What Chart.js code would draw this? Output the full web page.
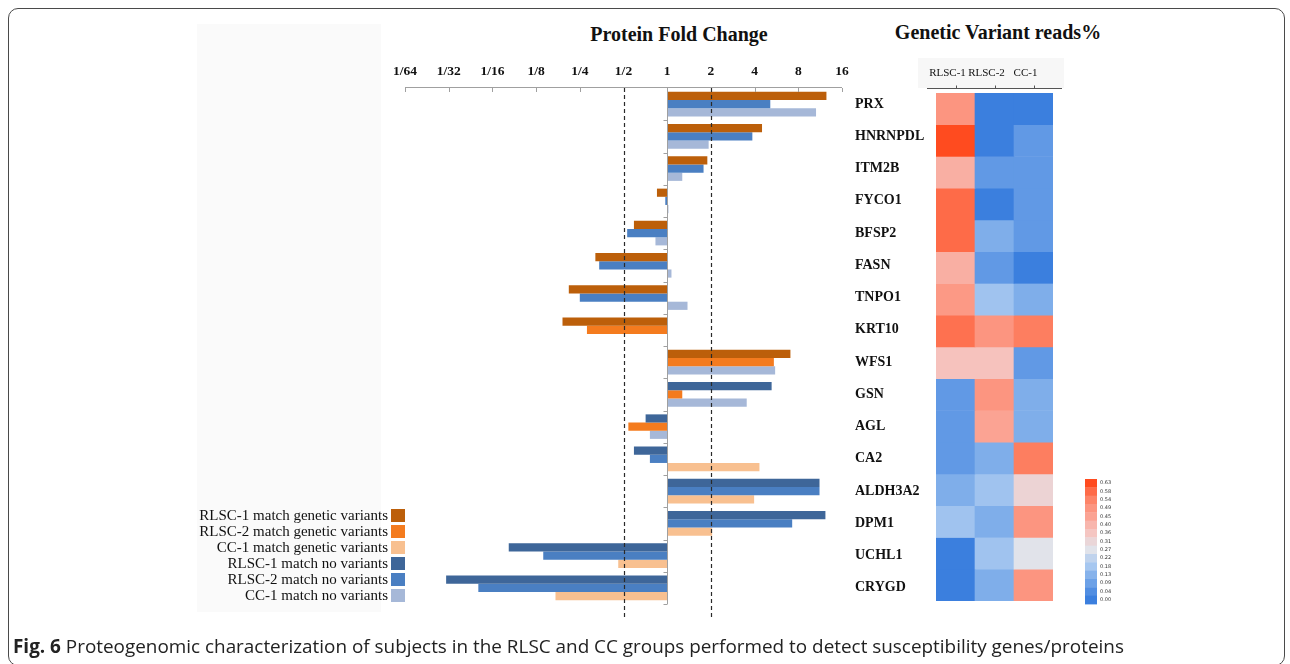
<!DOCTYPE html>
<html>
<head>
<meta charset="utf-8">
<script src="https://cdn.jsdelivr.net/npm/chart.js@4.4.0/dist/chart.umd.min.js"></script>
<style>
html, body { margin: 0; padding: 0; background: #fff; }
body { width: 1290px; height: 664px; position: relative; overflow: hidden; font-family: "Liberation Serif", serif; }
#frame { position: absolute; left: 8px; top: 8px; width: 1277px; height: 658px; border: 1.5px solid #4a4a4a; border-radius: 10px; box-sizing: border-box; }
#leftPanel { position: absolute; left: 197px; top: 24px; width: 184px; height: 588px; background: #fafafa; }
#hmHead { position: absolute; left: 918px; top: 58px; width: 146px; height: 30px; background: #f7f7f7; }
.title { position: absolute; font-weight: bold; font-size: 20px; color: #111; white-space: nowrap; transform: translateX(-50%); }
#barWrap { position: absolute; left: 380px; top: 40px; width: 560px; height: 600px; }
#hmWrap { position: absolute; left: 920px; top: 50px; width: 200px; height: 570px; }
#legend { position: absolute; right: 885px; top: 507px; }
.row { display: flex; align-items: center; justify-content: flex-end; height: 16px; font-size: 15px; color: #111; white-space: nowrap; }
.box { width: 14px; height: 13px; margin-left: 3px; }
#caption { position: absolute; left: 13px; top: 633px; font-family: "Open Sans", sans-serif; font-size: 18.9px; color: #222; white-space: nowrap; }
</style>
</head>
<body>
<div id="leftPanel"></div>
<div id="hmHead"></div>
<div class="title" style="left:679px; top:23px;">Protein Fold Change</div>
<div class="title" style="left:998px; top:21px;">Genetic Variant reads%</div>
<div id="barWrap"><canvas id="barChart"></canvas></div>
<div id="hmWrap"><canvas id="heatChart"></canvas></div>
<div id="legend"></div>
<div id="caption"><b>Fig. 6</b> Proteogenomic characterization of subjects in the RLSC and CC groups performed to detect susceptibility genes/proteins</div>
<div id="frame"></div>
<script>
// 基因列表
const genes = ['PRX', 'HNRNPDL', 'ITM2B', 'FYCO1', 'BFSP2', 'FASN', 'TNPO1', 'KRT10', 'WFS1', 'GSN', 'AGL', 'CA2', 'ALDH3A2', 'DPM1', 'UCHL1', 'CRYGD'];

// 横轴刻度
const foldTicks = ['1/64', '1/32', '1/16', '1/8', '1/4', '1/2', '1', '2', '4', '8', '16'];

// 蛋白倍数变化
const rlsc1Fold = [12.5, 4.5, 1.89, 0.85, 0.59, 0.32, 0.21, 0.19, 7.06, 5.24, 0.71, 0.59, 11.2, 12.3, 0.081, 0.030];
const rlsc2Fold = [5.13, 3.86, 1.78, 0.97, 0.53, 0.34, 0.25, 0.28, 5.43, 1.27, 0.54, 0.76, 11.2, 7.26, 0.14, 0.050];
const cc1Fold = [10.6, 1.93, 1.27, 1.02, 0.83, 1.07, 1.38, 1.01, 5.54, 3.53, 0.76, 4.32, 3.97, 2.04, 0.46, 0.17];

// 是否匹配遗传变异 (1 = 匹配)
const rlsc1Match = [1, 1, 1, 1, 1, 1, 1, 1, 1, 0, 0, 0, 0, 0, 0, 0];
const rlsc2Match = [0, 0, 0, 0, 0, 0, 0, 1, 1, 1, 1, 0, 0, 0, 0, 0];
const cc1Match = [0, 0, 0, 0, 0, 0, 0, 0, 0, 0, 0, 1, 1, 1, 1, 1];

// 变异读数百分比 (热图)
const readCols = ['RLSC-1', 'RLSC-2', 'CC-1'];
const rlsc1Reads = [0.49, 0.63, 0.42, 0.58, 0.58, 0.42, 0.48, 0.57, 0.37, 0.07, 0.07, 0.07, 0.12, 0.17, 0.00, 0.00];
const rlsc2Reads = [0.00, 0.00, 0.07, 0.00, 0.12, 0.07, 0.17, 0.49, 0.37, 0.49, 0.45, 0.12, 0.17, 0.12, 0.17, 0.12];
const cc1Reads = [0.00, 0.07, 0.07, 0.07, 0.07, 0.00, 0.12, 0.55, 0.07, 0.12, 0.12, 0.55, 0.32, 0.49, 0.27, 0.49];

// 色标刻度
const colorTicks = [0.63, 0.58, 0.54, 0.49, 0.45, 0.40, 0.36, 0.31, 0.27, 0.22, 0.18, 0.13, 0.09, 0.04, 0.00];

// 图例
const legendItems = [
    ['RLSC-1 match genetic variants', '#bc5f0a'],
    ['RLSC-2 match genetic variants', '#f47b1e'],
    ['CC-1 match genetic variants', '#f8c090'],
    ['RLSC-1 match no variants', '#3e6699'],
    ['RLSC-2 match no variants', '#4a7fc2'],
    ['CC-1 match no variants', '#a6b8d8']
];

// 色标插值
const heatStops = [
    [0.00, [59, 127, 222]],
    [0.09, [108, 161, 231]],
    [0.18, [166, 199, 240]],
    [0.27, [225, 227, 234]],
    [0.36, [245, 198, 194]],
    [0.45, [251, 163, 147]],
    [0.54, [253, 132, 104]],
    [0.63, [255, 75, 31]]
];

function heat(v) {
    for (let i = 1; i < heatStops.length; i++) {
        const [v1, c1] = heatStops[i];
        const [v0, c0] = heatStops[i - 1];
        if (v <= v1 || i === heatStops.length - 1) {
            const t = Math.max(0, Math.min(1, (v - v0) / (v1 - v0)));
            const c = c0.map((x, k) => Math.round(x + (c1[k] - x) * t));
            return `rgb(${c[0]},${c[1]},${c[2]})`;
        }
    }
}

// 图例 HTML
const legendEl = document.getElementById('legend');
legendItems.forEach(([text, color]) => {
    const row = document.createElement('div');
    row.className = 'row';
    row.innerHTML = `<span>${text}</span><span class="box" style="background:${color}"></span>`;
    legendEl.appendChild(row);
});

function barSet(label, fold, match, colMatch, colNo) {
    return {
        label: label,
        data: fold.map(v => Math.log2(v)),
        backgroundColor: match.map(m => m ? colMatch : colNo),
        categoryPercentage: 0.76,
        barPercentage: 1,
        borderWidth: 0
    };
}

// 轴线、零线与虚线
const foldGuides = {
    id: 'foldGuides',
    afterDatasetsDraw(chart) {
        const { ctx, chartArea: a, scales: { x } } = chart;
        ctx.save();
        ctx.strokeStyle = '#a0a0a0';
        ctx.lineWidth = 1;
        ctx.beginPath();
        ctx.moveTo(a.left, a.top - 0.5);
        ctx.lineTo(a.right, a.top - 0.5);
        ctx.stroke();
        x.ticks.forEach(t => {
            const px = Math.round(x.getPixelForValue(t.value)) + 0.5;
            ctx.beginPath();
            ctx.moveTo(px, a.top);
            ctx.lineTo(px, a.top + 4);
            ctx.stroke();
        });
        const zx = Math.round(x.getPixelForValue(0)) + 0.5;
        ctx.beginPath();
        ctx.moveTo(zx, a.top);
        ctx.lineTo(zx, a.bottom);
        ctx.stroke();
        const band = (a.bottom - a.top) / genes.length;
        for (let i = 1; i <= genes.length; i++) {
            const py = Math.round(a.top + i * band) + 0.5;
            ctx.beginPath();
            ctx.moveTo(zx - 4, py);
            ctx.lineTo(zx, py);
            ctx.stroke();
        }
        ctx.strokeStyle = '#2a2a2a';
        ctx.lineWidth = 1.2;
        ctx.setLineDash([4, 3]);
        [-1, 1].forEach(v => {
            const px = Math.round(x.getPixelForValue(v)) + 0.5;
            ctx.beginPath();
            ctx.moveTo(px, a.top);
            ctx.lineTo(px, a.bottom + 16);
            ctx.stroke();
        });
        ctx.restore();
    }
};

new Chart(document.getElementById('barChart'), {
    type: 'bar',
    data: {
        labels: genes,
        datasets: [
            barSet('RLSC-1', rlsc1Fold, rlsc1Match, legendItems[0][1], legendItems[3][1]),
            barSet('RLSC-2', rlsc2Fold, rlsc2Match, legendItems[1][1], legendItems[4][1]),
            barSet('CC-1', cc1Fold, cc1Match, legendItems[2][1], legendItems[5][1])
        ]
    },
    options: {
        indexAxis: 'y',
        responsive: true,
        maintainAspectRatio: false,
        animation: false,
        layout: { padding: { left: 25, right: 0, top: 1, bottom: 36 } },
        plugins: { legend: { display: false }, tooltip: { enabled: false } },
        scales: {
            x: {
                type: 'linear',
                position: 'top',
                min: -6,
                max: 4,
                afterFit: s => { s.height = 47; },
                grid: { display: false, drawTicks: false },
                border: { display: false },
                ticks: {
                    stepSize: 1,
                    padding: 8,
                    autoSkip: false,
                    maxRotation: 0,
                    color: '#111',
                    font: { family: 'Liberation Serif', weight: 'bold', size: 13.5 },
                    callback: v => foldTicks[v + 6]
                }
            },
            y: {
                type: 'category',
                position: 'right',
                afterFit: s => { s.width = 98; },
                grid: { display: false, drawTicks: false },
                border: { display: false },
                ticks: {
                    padding: 13,
                    autoSkip: false,
                    color: '#111',
                    font: { family: 'Liberation Serif', weight: 'bold', size: 14 }
                }
            }
        }
    },
    plugins: [foldGuides]
});

// 热图表头线与色标
const heatExtras = {
    id: 'heatExtras',
    afterDraw(chart) {
        const { ctx, chartArea: a, scales: { x } } = chart;
        ctx.save();
        ctx.strokeStyle = '#555';
        ctx.lineWidth = 1;
        const hy = a.top - 4.5;
        ctx.beginPath();
        ctx.moveTo(a.left - 9, hy);
        ctx.lineTo(a.right + 9, hy);
        ctx.stroke();
        readCols.forEach((c, i) => {
            const px = Math.round(x.getPixelForValue(i)) + 0.5;
            ctx.beginPath();
            ctx.moveTo(px, hy);
            ctx.lineTo(px, hy - 3);
            ctx.stroke();
        });
        const bx = 165, by = 429, bh = 125 / colorTicks.length;
        ctx.font = '5px "DejaVu Sans"';
        ctx.textBaseline = 'middle';
        colorTicks.forEach((v, i) => {
            ctx.fillStyle = heat(v);
            ctx.fillRect(bx, by + i * bh, 12, bh + 0.4);
            ctx.fillStyle = '#333';
            ctx.fillText(v.toFixed(2), bx + 15, by + i * bh + bh / 2);
        });
        ctx.restore();
    }
};

new Chart(document.getElementById('heatChart'), {
    type: 'bar',
    data: {
        labels: readCols,
        datasets: genes.map((g, i) => ({
            label: g,
            data: [1, 1, 1],
            backgroundColor: [heat(rlsc1Reads[i]), heat(rlsc2Reads[i]), heat(cc1Reads[i])],
            barPercentage: 1,
            categoryPercentage: 1,
            borderWidth: 0
        }))
    },
    options: {
        responsive: true,
        maintainAspectRatio: false,
        animation: false,
        layout: { padding: { left: 16, right: 67, top: 0, bottom: 19 } },
        plugins: { legend: { display: false }, tooltip: { enabled: false } },
        scales: {
            x: {
                type: 'category',
                position: 'top',
                stacked: true,
                afterFit: s => { s.height = 43; },
                grid: { display: false, drawTicks: false },
                border: { display: false },
                ticks: {
                    padding: 13,
                    autoSkip: false,
                    labelOffset: -8,
                    color: '#111',
                    maxRotation: 0,
                    minRotation: 0,
                    font: { family: 'Liberation Serif', size: 11 }
                }
            },
            y: {
                type: 'linear',
                stacked: true,
                min: 0,
                max: genes.length,
                reverse: true,
                display: false
            }
        }
    },
    plugins: [heatExtras]
});
</script>
</body>
</html>
